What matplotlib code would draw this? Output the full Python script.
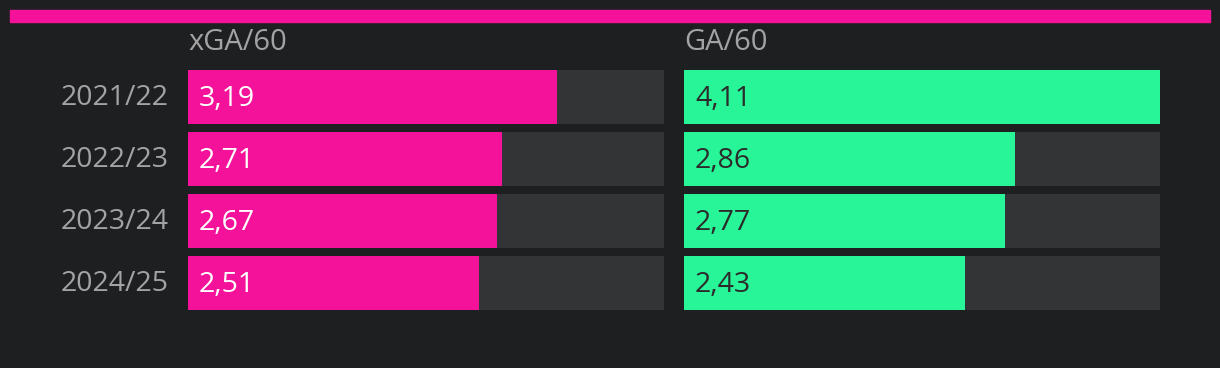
import matplotlib.pyplot as plt
from matplotlib.patches import Rectangle

seasons = ['2021/22', '2022/23', '2023/24', '2024/25']
xga60 = [3.19, 2.71, 2.67, 2.51]
ga60 = [4.11, 2.86, 2.77, 2.43]
headers = ['xGA/60', 'GA/60']

bg = '#1e1f21'
track = '#333436'
pink = '#f5129a'
green = '#28f597'
grey = '#a3a3a3'

plt.rcParams['font.family'] = ['Open Sans', 'DejaVu Sans']

W, H = 1220, 368
fig = plt.figure(figsize=(W / 100, H / 100), dpi=100, facecolor=bg)

# pink strip on top
fig.patches.append(Rectangle((10 / W, 1 - 22 / H), 1200 / W, 12 / H,
                             transform=fig.transFigure, color=pink, zorder=0))

vmax = max(max(xga60), max(ga60))
cols = [(188, xga60, pink, 'white'), (684, ga60, green, '#2b2b2b')]

for (left, vals, col, txtcol), head in zip(cols, headers):
    ax = fig.add_axes([left / W, 1 - 314 / H, 476 / W, 248 / H])
    ax.set_facecolor('none')
    y = range(len(vals))
    ax.barh(y, [vmax] * len(vals), height=54 / 62, color=track)
    ax.barh(y, vals, height=54 / 62, color=col)
    for i, v in enumerate(vals):
        ax.annotate(f'{v:.2f}'.replace('.', ','), (0, i), xytext=(8, -1.5),
                    textcoords='offset points', va='center', ha='left',
                    color=txtcol, fontsize=20.5)
    ax.set_xlim(0, vmax)
    ax.set_ylim(3.5, -0.5)
    ax.axis('off')
    fig.text(left / W, 1 - 42 / H, head, color=grey, fontsize=21,
             ha='left', va='center')

for i, s in enumerate(seasons):
    fig.text(169 / W, 1 - (98 + 62 * i) / H, s, color=grey, fontsize=20.5,
             ha='right', va='center')

fig.savefig('out.png', dpi=100, facecolor=bg)
